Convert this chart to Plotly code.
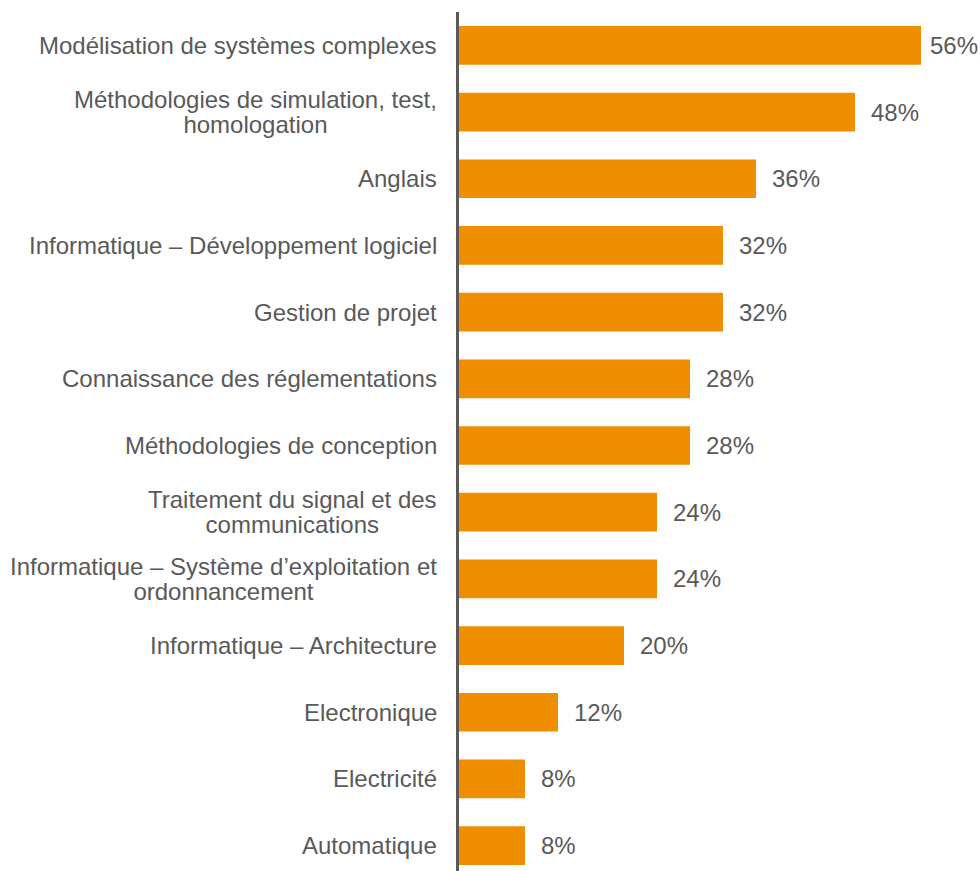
import plotly.graph_objects as go

# Survey results: share of respondents per skill area
skills = [
    "Modélisation de systèmes complexes",
    "Méthodologies de simulation, test,<br>homologation",
    "Anglais",
    "Informatique – Développement logiciel",
    "Gestion de projet",
    "Connaissance des réglementations",
    "Méthodologies de conception",
    "Traitement du signal et des<br>communications",
    "Informatique – Système d’exploitation et<br>ordonnancement",
    "Informatique – Architecture",
    "Electronique",
    "Electricité",
    "Automatique",
]
shares = [56, 48, 36, 32, 32, 28, 28, 24, 24, 20, 12, 8, 8]
share_labels = [f"{v}%" for v in shares]

BAR_COLOR = "#EE8E00"
TEXT_COLOR = "#595959"
FONT = "Liberation Sans, Arial, sans-serif"
FONT_SIZE = 24

WIDTH, HEIGHT = 980, 871
MARGIN_L = 459
X_MAX = 63.15
PX_PER_UNIT = (WIDTH - MARGIN_L) / X_MAX


def sized(text, size):
    """Wrap every line of a label in a span of the given font size."""
    return "<br>".join(
        f'<span style="font-size:{size}px">{line}</span>' for line in text.split("<br>")
    )


def label_shift(value, label, gap=14, edge_pad=4):
    """Horizontal offset of a value label, pulled in when it would leave the canvas."""
    est_width = FONT_SIZE * (0.556 * (len(label) - 1) + 0.889)
    room = (WIDTH - MARGIN_L) - value * PX_PER_UNIT - est_width - edge_pad
    return min(gap, room)


fig = go.Figure(
    go.Bar(
        x=shares,
        y=skills,
        orientation="h",
        marker=dict(color=BAR_COLOR, line=dict(width=0)),
        hoverinfo="skip",
    )
)

# Category labels: block right-aligned against the axis, lines centred, tight leading
for skill in skills:
    fig.add_annotation(
        x=0,
        y=skill,
        xref="x",
        yref="y",
        text=sized(skill, FONT_SIZE),
        xanchor="right",
        yanchor="middle",
        align="center",
        xshift=-20,
        showarrow=False,
        font=dict(family=FONT, size=19, color=TEXT_COLOR),
    )

# Value labels just past the end of each bar
for skill, value, label in zip(skills, shares, share_labels):
    fig.add_annotation(
        x=value,
        y=skill,
        text=label,
        xanchor="left",
        yanchor="middle",
        xshift=label_shift(value, label),
        showarrow=False,
        font=dict(family=FONT, size=FONT_SIZE, color=TEXT_COLOR),
    )

fig.update_layout(
    width=WIDTH,
    height=HEIGHT,
    margin=dict(l=MARGIN_L, r=0, t=12, b=0),
    paper_bgcolor="white",
    plot_bgcolor="white",
    bargap=0.42,
    showlegend=False,
    font=dict(family=FONT, size=FONT_SIZE, color=TEXT_COLOR),
)

fig.update_xaxes(
    range=[0, X_MAX],
    visible=False,
    showgrid=False,
    zeroline=False,
)

fig.update_yaxes(
    categoryorder="array",
    categoryarray=skills,
    range=[12.38, -0.5],
    showline=True,
    linecolor=TEXT_COLOR,
    linewidth=3,
    showgrid=False,
    zeroline=False,
    ticks="",
    showticklabels=False,
)

fig.write_html("out.html")
